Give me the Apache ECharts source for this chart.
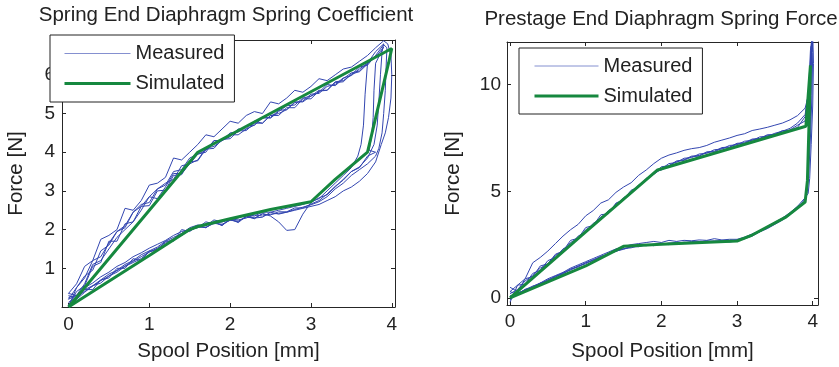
<!DOCTYPE html>
<html>
<head>
<meta charset="utf-8">
<script src="https://cdn.jsdelivr.net/npm/echarts@6/dist/echarts.min.js"></script>
<style>
  html, body { margin: 0; padding: 0; background: #fff; }
  #main { width: 839px; height: 367px; }
</style>
</head>
<body>
<div id="main"></div>
<script>
// x positions of the sampled branches
var X_UP = [0, 0.1, 0.2, 0.3, 0.4, 0.5, 0.6, 0.7, 0.8, 0.9, 1.0, 1.1, 1.2, 1.3, 1.4, 1.5, 1.6, 1.7, 1.8, 1.9,
  2.0, 2.1, 2.2, 2.3, 2.4, 2.5, 2.6, 2.7, 2.8, 2.9, 3.0, 3.1, 3.2, 3.3, 3.4, 3.5, 3.6, 3.7, 3.8, 3.9];
var X_LO_LEFT = [3.8, 3.7, 3.6, 3.5, 3.4, 3.3, 3.2, 3.1, 3.0, 2.9, 2.8, 2.7, 2.6, 2.5, 2.4, 2.3, 2.2, 2.1, 2.0,
  1.9, 1.8, 1.7, 1.6, 1.5, 1.4, 1.3, 1.2, 1.1, 1.0, 0.9, 0.8, 0.7, 0.6, 0.5, 0.4, 0.3, 0.2, 0.1, 0];
var X_LO_RIGHT = [3.9, 3.8, 3.7, 3.6, 3.5, 3.4, 3.3, 3.2, 3.1, 3.0, 2.9, 2.8, 2.7, 2.6, 2.5, 2.4, 2.3, 2.2, 2.1, 2.0,
  1.9, 1.8, 1.7, 1.6, 1.5, 1.4, 1.3, 1.2, 1.1, 1.0, 0.9, 0.8, 0.7, 0.6, 0.5, 0.4, 0.3, 0.2, 0.1, 0];

// left plot: spring end diaphragm, measured runs
var leftUpA = [0.35, 0.6, 1.05, 1.2, 1.75, 1.85, 2.0, 2.55, 2.5, 2.75, 3.15, 3.2, 3.35, 3.85, 3.8, 4.0, 4.2, 4.45, 4.4, 4.6,
  4.8, 4.75, 4.95, 5.05, 5.0, 5.3, 5.25, 5.4, 5.6, 5.55, 5.7, 5.9, 5.85, 6.0, 6.15, 6.2, 6.35, 6.5, 6.7, 6.88];
var leftUpB = [0.0, 0.5, 0.8, 0.95, 1.45, 1.6, 1.95, 2.05, 2.45, 2.65, 2.7, 3.05, 3.2, 3.3, 3.65, 3.7, 3.95, 4.0, 4.3, 4.3,
  4.4, 4.6, 4.6, 4.7, 4.9, 4.88, 5.05, 5.2, 5.22, 5.4, 5.45, 5.55, 5.75, 5.72, 5.9, 6.05, 6.1, 6.3, 6.45, 6.72];
var leftUpC = [0.25, 0.3, 0.6, 1.1, 1.2, 1.5, 1.8, 2.0, 2.2, 2.5, 2.85, 2.8, 3.1, 3.45, 3.45, 3.7, 3.8, 4.1, 4.15, 4.3,
  4.45, 4.45, 4.6, 4.8, 4.75, 4.95, 5.0, 5.1, 5.3, 5.3, 5.45, 5.6, 5.6, 5.82, 5.85, 6.0, 6.2, 6.25, 6.5, 6.55];
var leftUpD = [0.05, 0.4, 0.55, 1.05, 1.15, 1.7, 1.7, 2.15, 2.2, 2.6, 2.62, 3.0, 3.02, 3.4, 3.42, 3.75, 3.78, 4.08, 4.1, 4.33,
  4.35, 4.55, 4.56, 4.75, 4.75, 4.95, 4.95, 5.15, 5.15, 5.38, 5.38, 5.58, 5.6, 5.8, 5.82, 6.02, 6.08, 6.28, 6.5, 6.78];
var leftUpE = [0.2, 0.5, 0.75, 1.2, 1.3, 1.65, 1.95, 2.1, 2.45, 2.6, 2.85, 3.05, 3.15, 3.5, 3.55, 3.85, 3.95, 4.05, 4.3, 4.3,
  4.5, 4.52, 4.68, 4.7, 4.88, 4.9, 5.08, 5.1, 5.28, 5.32, 5.5, 5.52, 5.7, 5.75, 5.92, 5.98, 6.15, 6.3, 6.6, 6.8];
var leftDnA = [[3.95, 6.8], [3.99, 6.5], [4.0, 6.0], [3.99, 5.4], [3.96, 4.9], [3.92, 4.5], [3.87, 4.2]];
var leftDnB = [[3.86, 6.55], [3.8, 6.3], [3.78, 5.6], [3.77, 4.9], [3.75, 4.4], [3.72, 4.05]];
var leftDnC = [[3.78, 6.45], [3.7, 6.3], [3.67, 5.5], [3.65, 4.7], [3.62, 4.2], [3.58, 3.9]];
var leftDnD = [[3.94, 6.7], [3.93, 6.2], [3.92, 5.6], [3.9, 5.0], [3.88, 4.5], [3.84, 4.1]];
var leftDnE = [[3.92, 6.85], [3.88, 6.6], [3.86, 6.0], [3.84, 5.3], [3.82, 4.7], [3.78, 4.2]];
var leftLoA = [3.75, 3.45, 3.25, 3.1, 3.0, 2.85, 2.75, 2.65, 2.6, 2.55, 2.5, 2.45, 2.42, 2.4, 2.35, 2.38, 2.3, 2.25, 2.28,
  2.2, 2.15, 2.2, 2.05, 2.0, 1.95, 1.85, 1.72, 1.62, 1.52, 1.4, 1.3, 1.15, 1.05, 0.9, 0.78, 0.62, 0.5, 0.3, 0.2];
var leftLoB = [4.0, 3.9, 3.6, 3.5, 3.3, 3.1, 2.9, 2.82, 2.7, 2.4, 2.0, 1.98, 2.2, 2.35, 2.42, 2.28, 2.35, 2.18, 2.28,
  2.1, 2.2, 2.05, 2.1, 1.98, 1.85, 1.75, 1.6, 1.5, 1.42, 1.25, 1.15, 1.05, 0.9, 0.8, 0.62, 0.55, 0.38, 0.2, 0.05];
var leftLoC = [null, null, null, 3.6, 3.4, 3.2, 3.0, 2.8, 2.72, 2.65, 2.6, 2.55, 2.5, 2.45, 2.45, 2.35, 2.38, 2.3, 2.25,
  2.2, 2.25, 2.1, 2.12, 2.05, 1.9, 1.8, 1.7, 1.55, 1.45, 1.35, 1.2, 1.1, 0.95, 0.85, 0.7, 0.55, 0.45, 0.3, 0.35];
var leftLoD = [3.9, 3.7, 3.55, 3.4, 3.2, 3.05, 2.85, 2.72, 2.64, 2.58, 2.52, 2.45, 2.4, 2.45, 2.32, 2.3, 2.35, 2.2, 2.25,
  2.12, 2.18, 2.05, 2.1, 1.95, 2.0, 1.7, 1.7, 1.45, 1.45, 1.2, 1.25, 1.0, 1.0, 0.75, 0.7, 0.45, 0.45, 0.2, 0.3];
var leftLoE = [null, 3.85, 3.62, 3.5, 3.28, 3.12, 2.92, 2.75, 2.66, 2.56, 2.56, 2.46, 2.46, 2.38, 2.4, 2.3, 2.32, 2.22, 2.24,
  2.14, 2.16, 2.06, 2.06, 1.98, 1.9, 1.76, 1.66, 1.52, 1.42, 1.3, 1.18, 1.06, 0.94, 0.8, 0.68, 0.54, 0.4, 0.26, 0.12];
var leftSim = [[0, 0], [1.6, 4.0], [4.0, 6.68], [3.96, 6.3], [3.7, 4.0], [3.3, 3.3], [3.0, 2.72], [2.5, 2.52],
  [2.0, 2.28], [1.6, 2.08], [1.5, 2.0], [1.0, 1.33], [0, 0]];

// right plot: prestage end diaphragm, measured runs
var rightUpA = [0.3, 0.6, 0.9, 1.65, 1.9, 2.2, 2.55, 2.9, 3.2, 3.45, 3.85, 4.1, 4.45, 4.6, 4.95, 5.2, 5.4, 5.75, 6.0, 6.3,
  6.55, 6.7, 6.8, 6.92, 7.0, 7.05, 7.15, 7.3, 7.4, 7.5, 7.62, 7.7, 7.85, 7.92, 8.0, 8.1, 8.2, 8.35, 8.55, 8.9];
var rightUpB = [0.5, 0.3, 0.9, 1.0, 1.5, 1.6, 2.05, 2.2, 2.7, 2.8, 3.3, 3.4, 3.9, 3.95, 4.45, 4.6, 5.05, 5.2, 5.6, 5.8,
  6.05, 6.3, 6.35, 6.55, 6.58, 6.75, 6.78, 6.95, 6.98, 7.15, 7.18, 7.35, 7.38, 7.55, 7.58, 7.72, 7.82, 7.95, 8.2, 8.6];
var rightUpC = [-0.2, 0.6, 0.65, 1.15, 1.3, 1.75, 1.9, 2.3, 2.5, 2.9, 3.1, 3.5, 3.7, 4.1, 4.3, 4.7, 4.9, 5.3, 5.5, 5.9,
  6.0, 6.2, 6.4, 6.45, 6.62, 6.65, 6.82, 6.85, 7.02, 7.05, 7.22, 7.25, 7.42, 7.45, 7.62, 7.68, 7.78, 7.88, 8.1, 8.3];
var rightUpD = [0.2, 0.4, 0.8, 1.05, 1.4, 1.6, 2.0, 2.2, 2.6, 2.8, 3.2, 3.4, 3.8, 4.0, 4.4, 4.6, 5.0, 5.2, 5.6, 5.8,
  6.15, 6.2, 6.42, 6.48, 6.65, 6.68, 6.85, 6.88, 7.05, 7.08, 7.25, 7.28, 7.45, 7.48, 7.65, 7.65, 7.85, 7.85, 8.0, 8.5];
var rightDnA = [[3.95, 9.6], [3.98, 11.2], [4.0, 12.5], [4.01, 11.0], [4.0, 9.0], [3.98, 7.2], [3.96, 5.6], [3.94, 4.9]];
var rightDnB = [[3.96, 10.0], [3.99, 12.3], [4.0, 11.5], [3.99, 9.5], [3.97, 7.5], [3.95, 6.0], [3.93, 5.0]];
var rightDnC = [[3.94, 9.2], [3.97, 11.6], [3.99, 12.2], [3.98, 10.5], [3.96, 8.0], [3.94, 6.2], [3.92, 5.1]];
var rightDnD = [[3.95, 9.8], [3.98, 11.8], [3.98, 10.0], [3.97, 8.5], [3.95, 6.8], [3.93, 5.4], [3.91, 4.8]];
var rightLoA = [4.7, 4.3, 4.0, 3.75, 3.55, 3.35, 3.15, 3.0, 2.85, 2.75, 2.75, 2.72, 2.78, 2.7, 2.72, 2.68, 2.7, 2.65, 2.7, 2.6,
  2.65, 2.6, 2.55, 2.5, 2.4, 2.3, 2.15, 2.0, 1.85, 1.7, 1.55, 1.4, 1.2, 1.05, 0.9, 0.7, 0.55, 0.4, 0.2, 0.1];
var rightLoB = [4.5, 4.2, 3.9, 3.65, 3.45, 3.25, 3.1, 2.9, 2.78, 2.68, 2.62, 2.65, 2.6, 2.62, 2.58, 2.6, 2.55, 2.58, 2.5, 2.55,
  2.45, 2.5, 2.4, 2.4, 2.28, 2.2, 2.05, 1.95, 1.75, 1.65, 1.45, 1.35, 1.12, 1.02, 0.8, 0.7, 0.48, 0.4, 0.15, 0.3];
var rightLoC = [4.55, 4.28, 3.92, 3.72, 3.48, 3.32, 3.1, 2.96, 2.78, 2.72, 2.66, 2.7, 2.64, 2.68, 2.62, 2.65, 2.58, 2.62, 2.54, 2.56,
  2.5, 2.48, 2.45, 2.35, 2.32, 2.18, 2.1, 1.9, 1.8, 1.6, 1.5, 1.3, 1.18, 0.98, 0.86, 0.66, 0.55, 0.32, 0.25, -0.1];
var rightLoD = [4.65, 4.2, 3.98, 3.68, 3.52, 3.28, 3.14, 2.92, 2.82, 2.7, 2.7, 2.66, 2.68, 2.64, 2.65, 2.6, 2.62, 2.56, 2.58, 2.5,
  2.52, 2.45, 2.48, 2.4, 2.3, 2.22, 2.05, 1.95, 1.78, 1.65, 1.48, 1.35, 1.15, 1.02, 0.82, 0.7, 0.5, 0.38, 0.22, 0.05];
var rightSim = [[0, 0], [1.0, 3.1], [1.95, 6.0], [3.91, 8.05], [3.97, 10.9], [3.95, 8.0], [3.93, 5.5], [3.9, 4.5],
  [3.65, 3.8], [3.2, 2.95], [3.0, 2.67], [2.0, 2.52], [1.5, 2.42], [1.0, 1.5], [0.5, 0.75], [0, 0]];

var xTicks = [0, 1, 2, 3, 4];
var leftYTicks = [1, 2, 3, 4, 5, 6];
var rightYTicks = [0, 5, 10];

var FONT = '"Liberation Sans", Arial, sans-serif';
var TEXT = '#222';
var BLUE = '#3346b0';
var GREEN = '#16883f';

// one hysteresis run: rising branch, turn at the end stop, falling branch
function loop(xUp, up, dn, xLo, lo) {
  var pts = [];
  for (var i = 0; i < up.length; i++) pts.push([xUp[i], up[i]]);
  for (var j = 0; j < dn.length; j++) pts.push(dn[j]);
  for (var k = 0; k < lo.length; k++) {
    if (lo[k] != null) pts.push([xLo[k], lo[k]]);
  }
  return pts;
}

function measured(data, ax) {
  return {
    name: 'Measured', type: 'line', data: data, xAxisIndex: ax, yAxisIndex: ax,
    symbol: 'none', lineStyle: { color: BLUE, width: 1 }, itemStyle: { color: BLUE },
    silent: true, z: 2
  };
}

function simulated(data, ax) {
  return {
    name: 'Simulated', type: 'line', data: data, xAxisIndex: ax, yAxisIndex: ax,
    symbol: 'none', lineStyle: { color: GREEN, width: 3 }, itemStyle: { color: GREEN },
    silent: true, z: 3
  };
}

var lineStyle = { color: '#262626', width: 1 };

function axisPair(dim, grid, min, max, ticks, name, nameGap, margin) {
  var main = {
    type: 'value', gridIndex: grid, min: min, max: max,
    position: dim === 'x' ? 'bottom' : 'left',
    name: name, nameLocation: 'middle', nameGap: nameGap,
    nameTextStyle: { fontFamily: FONT, fontSize: 20.5, color: TEXT },
    axisLine: { show: true, onZero: false, lineStyle: lineStyle },
    axisTick: { show: true, inside: true, length: 4, customValues: ticks, lineStyle: lineStyle },
    axisLabel: { customValues: ticks, margin: margin, fontFamily: FONT, fontSize: 19, color: TEXT },
    splitLine: { show: false }
  };
  var mirror = {
    type: 'value', gridIndex: grid, min: min, max: max,
    position: dim === 'x' ? 'top' : 'right',
    axisLine: { show: true, onZero: false, lineStyle: lineStyle },
    axisTick: { show: true, inside: true, length: 4, customValues: ticks, lineStyle: lineStyle },
    axisLabel: { show: false },
    splitLine: { show: false }
  };
  return [main, mirror];
}

var xAxes = axisPair('x', 0, -0.08, 4.04, xTicks, 'Spool Position [mm]', 34, 8)
  .concat(axisPair('x', 1, -0.04, 4.07, xTicks, 'Spool Position [mm]', 36, 7));
var yAxes = axisPair('y', 0, 0, 6.9, leftYTicks, 'Force [N]', 35, 7)
  .concat(axisPair('y', 1, -0.33, 12, rightYTicks, 'Force [N]', 43, 6));

function legendAt(left, top, padding, itemWidth) {
  return {
    orient: 'vertical', left: left, top: top, padding: padding,
    itemGap: 10, itemWidth: itemWidth, itemHeight: 4,
    backgroundColor: '#fff', borderColor: '#222', borderWidth: 1, borderRadius: 0,
    selectedMode: false,
    itemStyle: { opacity: 0 },
    textStyle: { fontFamily: FONT, fontSize: 20, color: TEXT },
    data: [
      { name: 'Measured', lineStyle: { width: 1, color: BLUE, opacity: 0.6 } },
      { name: 'Simulated', lineStyle: { width: 3, color: GREEN } }
    ]
  };
}

var chart = echarts.init(document.getElementById('main'), null, { renderer: 'canvas' });

chart.setOption({
  backgroundColor: '#fff',
  animation: false,
  title: [
    { text: 'Spring End Diaphragm Spring Coefficient', left: 226, top: 5, textAlign: 'center', padding: 0,
      textStyle: { fontFamily: FONT, fontSize: 20.5, fontWeight: 'normal', color: TEXT } },
    { text: 'Prestage End Diaphragm Spring Force', left: 661, top: 9, textAlign: 'center', padding: 0,
      textStyle: { fontFamily: FONT, fontSize: 20.5, fontWeight: 'normal', color: TEXT } }
  ],
  legend: [
    legendAt(50, 35, [8.5, 10, 8.5, 13], 66),
    legendAt(519, 48, [8, 10, 8, 14], 64)
  ],
  grid: [
    { left: 62, top: 40, width: 333, height: 270, containLabel: false },
    { left: 507, top: 42, width: 311, height: 265, containLabel: false }
  ],
  xAxis: xAxes,
  yAxis: yAxes,
  series: [
    measured(loop(X_UP, leftUpA, leftDnA, X_LO_LEFT, leftLoA), 0),
    measured(loop(X_UP, leftUpB, leftDnB, X_LO_LEFT, leftLoB), 0),
    measured(loop(X_UP, leftUpC, leftDnC, X_LO_LEFT, leftLoC), 0),
    measured(loop(X_UP, leftUpD, leftDnD, X_LO_LEFT, leftLoD), 0),
    measured(loop(X_UP, leftUpE, leftDnE, X_LO_LEFT, leftLoE), 0),
    simulated(leftSim, 0),
    measured(loop(X_UP, rightUpA, rightDnA, X_LO_RIGHT, rightLoA), 2),
    measured(loop(X_UP, rightUpB, rightDnB, X_LO_RIGHT, rightLoB), 2),
    measured(loop(X_UP, rightUpC, rightDnC, X_LO_RIGHT, rightLoC), 2),
    measured(loop(X_UP, rightUpD, rightDnD, X_LO_RIGHT, rightLoD), 2),
    simulated(rightSim, 2)
  ]
});
</script>
</body>
</html>
